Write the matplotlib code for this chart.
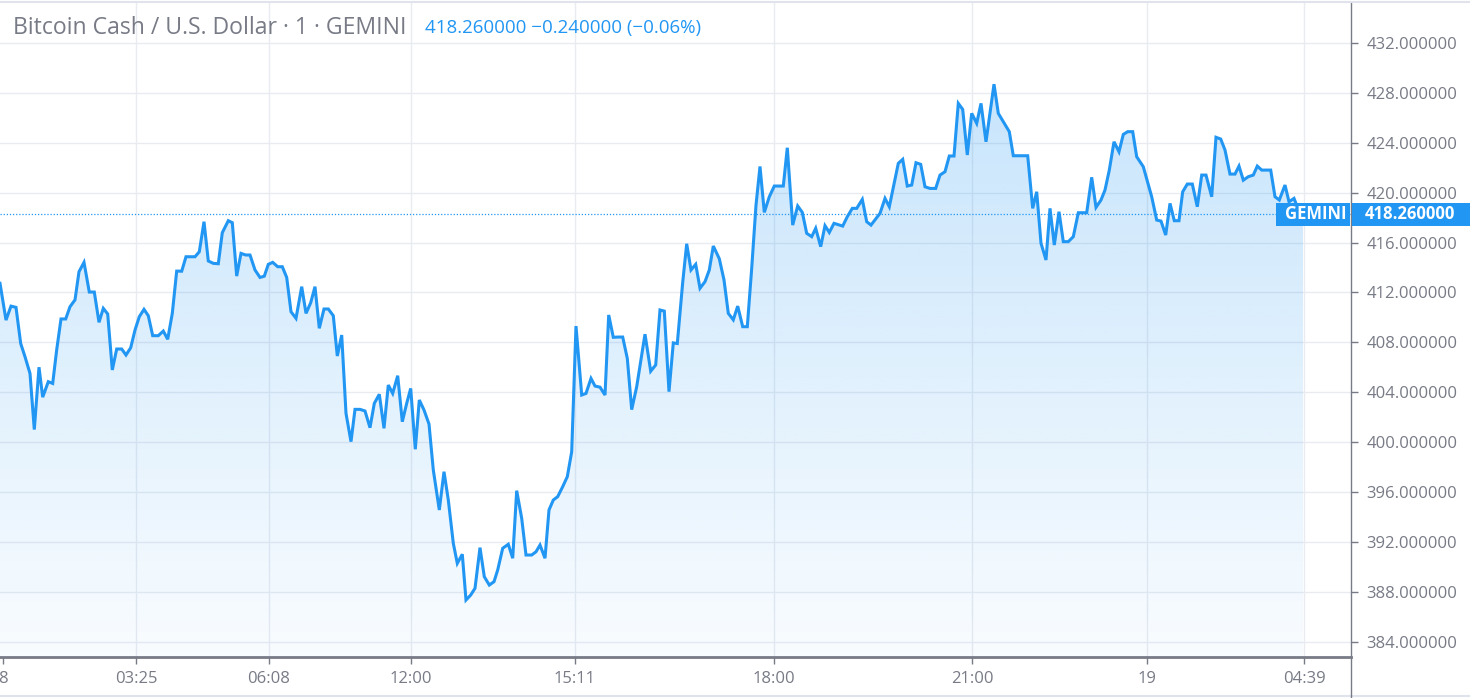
import numpy as np
import matplotlib
matplotlib.use("Agg")
import matplotlib.pyplot as plt
from matplotlib.patches import Rectangle
from matplotlib.lines import Line2D
import matplotlib.transforms as mtransforms

# ---------------- data ----------------
t = [0, 6, 11, 16, 20.7, 25, 30, 34.3, 39, 42.7, 48.3, 52.7, 56.7, 61, 65.7, 70, 75, 79, 84,
     89.3, 94.3, 99, 103.3, 107.7, 112.3, 116.7, 121.7, 126, 130.7, 135, 139.3, 144, 148.3,
     152.7, 158.3, 163.3, 167.7, 172.3, 176.7, 181.7, 186, 195, 199.3, 204, 208.3, 213.3,
     218.3, 222.3, 228.3, 232.3, 236.7, 241, 245.7, 250, 255, 260, 264.3, 268.3, 272.7,
     277.7, 282.3, 286.7, 291, 296, 301.7, 306, 310.7, 315, 319.3, 324, 328.3,
     333.3, 337.3, 341.7, 346, 351, 355, 360, 365, 370, 374.3, 379.3, 384, 388.3, 392.7,
     397.7, 402.3, 406.7, 410.7, 415.3, 419.3, 424, 429, 433.3, 439.3, 444, 448.3, 453.3,
     457.3, 462.3, 466, 470.7, 475, 480, 484.3, 489.3, 494, 497.7, 502.7, 508.3, 512.7,
     516.7, 521.7, 526, 531.7, 536, 540, 545, 549, 553.3, 557.7, 562.7, 567.3, 571.7, 576,
     581.7, 586, 591, 595, 600, 605, 608.7, 613.3, 618.3, 622.7, 627.3, 631.7, 636.7, 645,
     650.7, 655.7, 660, 664.3, 669, 673.3, 677.3, 682.7, 686.7, 691, 695.7, 700, 705, 709.3,
     713.3, 719.3, 724, 728.3, 733.3, 737.7, 742.7, 747.3, 751.7, 756, 760, 764.3, 769.3,
     774.3, 783.3, 787.3, 792.7, 797.7, 802.3, 806.7, 811.7, 815.7, 820.7, 825, 829.3, 834,
     842.7, 847.3, 852.3, 856.7, 862.3, 866.7, 871, 880, 885, 889.3, 898.3, 902.7, 907.3,
     911.7, 916, 920.7, 925, 930, 935.7, 940, 945, 949.3, 954, 958.3, 962.7, 967.3, 971.7,
     976.7, 981, 986, 994, 998.3, 1003.3, 1009.3, 1013.3, 1027.7, 1032.7, 1036.7, 1041,
     1046, 1050, 1054.3, 1059, 1063.3, 1068.3, 1073.3, 1078.3, 1086.7, 1091.7, 1096, 1101,
     1105, 1109.3, 1114, 1119, 1123.3, 1127.7, 1132.7, 1136.7, 1143.3, 1151.7, 1156.7, 1161,
     1165.7, 1170, 1174.3, 1179, 1182.7, 1187.3, 1192.3, 1197.3, 1201.7, 1206, 1211.7, 1216,
     1220.7, 1225, 1230, 1235, 1239, 1243.3, 1248.3, 1253.3, 1257.3, 1261.7, 1270.7, 1275,
     1279.3, 1285, 1289, 1294, 1299, 1303]

price = [412.73, 409.78, 410.9, 410.8, 407.9, 406.84, 405.5, 401.0, 406.0, 403.6, 404.84,
         404.7, 407.4, 409.87, 409.87, 410.85, 411.4, 413.66, 414.41, 412.03, 412.03, 409.6,
         410.72, 410.27, 405.78, 407.46, 407.46, 406.98, 407.56, 408.98, 410.05, 410.64,
         410.13, 408.53, 408.53, 408.9, 408.24, 410.32, 413.71, 413.7, 414.86, 414.86, 415.26,
         417.67, 414.52, 414.33, 414.3, 416.79, 417.75, 417.59, 413.31, 415.13, 415.0, 415.0,
         413.8, 413.2, 413.3, 414.25, 414.41, 414.06, 414.06, 413.2, 410.45, 409.92, 412.46,
         410.32, 411.17, 412.46, 409.12, 410.67, 410.67,
         410.13, 406.9, 408.58, 402.3, 400.03, 402.62, 402.62, 402.49, 401.15, 403.1, 403.83,
         401.1, 404.57, 403.9, 405.32, 401.63, 403.1, 404.3, 399.42, 403.37, 402.57, 401.44,
         397.76, 394.55, 397.62, 395.35, 391.88, 390.27, 391.0, 387.33, 387.73, 388.27, 391.53,
         389.2, 388.53, 388.8, 389.74, 391.48, 391.8, 390.68, 396.1, 393.88, 390.94, 390.94,
         391.2, 391.74, 390.68, 394.55, 395.35, 395.62, 396.42, 397.22, 399.22, 409.3, 403.77,
         403.9, 405.1, 404.49, 404.4, 403.77, 410.19, 408.4, 408.42, 408.42, 406.71, 402.6,
         404.44, 408.65, 405.68, 406.18, 410.59, 410.5, 404.04, 407.95, 407.9, 412.8, 415.9,
         413.8, 414.25, 412.33, 412.86, 413.8, 415.72, 414.7, 413.0, 410.32, 409.8, 410.9,
         409.25, 409.25, 413.93, 419.0, 422.1, 418.42, 419.67, 420.53, 420.53, 423.6, 417.4,
         418.93, 418.42, 416.74, 416.47, 417.14, 415.67, 417.35, 416.81, 417.54, 417.32,
         418.07, 418.74, 418.74, 419.46, 417.67, 417.4, 418.34, 419.54, 418.87, 422.35, 422.67,
         420.53, 420.61, 422.4, 422.27, 420.47, 420.34, 420.34, 421.41, 421.68, 422.94, 422.94,
         427.16, 426.68, 423.02, 426.36, 425.56, 427.16, 424.08, 428.7, 426.36, 425.69, 424.89,
         422.96, 422.96, 418.74, 420.07, 415.94, 414.6, 418.74, 415.8, 418.47, 416.07, 416.07,
         416.47, 418.39, 418.39, 421.23, 418.82, 419.41, 420.21, 421.81, 424.08, 423.28, 424.67,
         424.89, 424.89, 422.88, 422.08, 419.67, 417.8, 417.72, 416.6, 419.14, 417.75, 417.75,
         420.07, 420.69, 420.69, 418.87, 421.41, 421.41, 419.67, 424.44, 424.3, 423.42, 421.49,
         421.49, 422.13, 421.0, 421.28, 421.41, 422.13, 421.81, 421.81, 419.67, 419.41, 420.61,
         419.27, 419.54, 418.5, 418.26]

tick_pos = [3, 136, 269, 411, 575, 774, 972, 1147, 1304]
tick_labels = ["8", "03:25", "06:08", "12:00", "15:11", "18:00", "21:00", "19", "04:39"]
y_ticks = list(range(384, 433, 4))

title = "Bitcoin Cash / U.S. Dollar \u00b7 1 \u00b7 GEMINI"
last_price = price[-1]
change = -0.24
change_pct = -0.06
exchange = "GEMINI"

# ---------------- style ----------------
BLUE = "#2196f3"
GRAY = "#787b86"
GRID = "#e9ebf1"
FONT = ["Open Sans", "DejaVu Sans"]
plt.rcParams["font.family"] = FONT

W, H = 1470, 698
fig = plt.figure(figsize=(W / 100, H / 100), dpi=100)
fig.patch.set_facecolor("white")

ax_left, ax_right, ax_top, ax_bot = 0, 1351, 3, 657
ax = fig.add_axes([ax_left / W, 1 - ax_bot / H, (ax_right - ax_left) / W, (ax_bot - ax_top) / H])

y_lo, y_hi = 382.76, 435.21
x_lo, x_hi = 0, 1351

# gradient area fill
poly = ax.fill_between(t, price, y_lo, facecolor="none", edgecolor="none")
n = 256
alpha = np.linspace(0.25, 0.03, n)
img = np.zeros((n, 1, 4))
img[:, 0, 0] = 33 / 255
img[:, 0, 1] = 150 / 255
img[:, 0, 2] = 243 / 255
img[:, 0, 3] = alpha
im = ax.imshow(img, extent=[t[0], t[-1], y_lo, max(price)], aspect="auto",
               origin="upper", zorder=1, interpolation="bilinear")
im.set_clip_path(poly.get_paths()[0], transform=ax.transData)

ax.plot(t, price, color=BLUE, lw=2.2, zorder=3, solid_joinstyle="miter")

ax.axhline(last_price, color=BLUE, lw=0.9, ls=(0, (1, 1.5)), zorder=2)

ax.set_xlim(x_lo, x_hi)
ax.set_ylim(y_lo, y_hi)

# grid
for yv in y_ticks:
    ax.axhline(yv, color=GRID, lw=1, zorder=0)
for xv in tick_pos[1:]:
    ax.axvline(xv, color=GRID, lw=1, zorder=0)

# axes
ax.yaxis.tick_right()
ax.set_yticks(y_ticks)
ax.set_yticklabels([f"{v:.6f}" for v in y_ticks])
ax.set_xticks(tick_pos)
ax.set_xticklabels(tick_labels)
ax.tick_params(axis="y", direction="out", length=5, width=1, color=GRAY,
               labelcolor=GRAY, labelsize=12, pad=6)
ax.tick_params(axis="x", direction="out", length=5, width=1, color=GRAY,
               labelcolor=GRAY, labelsize=12, pad=5)
for s in ["top", "left"]:
    ax.spines[s].set_visible(False)
ax.spines["right"].set_color(GRAY)
ax.spines["right"].set_linewidth(1)
ax.spines["bottom"].set_color(GRAY)
ax.spines["bottom"].set_linewidth(2)

# decorative borders
fig.add_artist(Line2D([0, 1], [1 - 1.5 / H, 1 - 1.5 / H], color="#e0e3eb", lw=1.5))
fig.add_artist(Line2D([0, 1], [1 - 695.5 / H, 1 - 695.5 / H], color="#e0e3eb", lw=1.5))
fig.add_artist(Line2D([ax_right / W, ax_right / W], [0, 1 - ax_bot / H], color=GRAY, lw=1))

# price labels
trans = mtransforms.blended_transform_factory(fig.transFigure, ax.transData)
box_h = 23 / ((ax_bot - ax_top) / (y_hi - y_lo))
ax.add_patch(Rectangle((1352 / W, last_price - box_h / 2), (W - 1352) / W, box_h,
                       transform=trans, facecolor=BLUE, edgecolor="none", clip_on=False, zorder=5))
ax.add_patch(Rectangle((1276 / W, last_price - box_h / 2), (1350 - 1276) / W, box_h,
                       transform=trans, facecolor=BLUE, edgecolor="none", clip_on=False, zorder=5))
ax.text(1365 / W, last_price, f"{last_price:.6f}", transform=trans, color="white",
        fontsize=12, fontweight="bold", va="center", ha="left", zorder=6)
ax.text(1347 / W, last_price, exchange, transform=trans, color="white",
        fontsize=12, fontweight="bold", va="center", ha="right", zorder=6)

# header
fig.text(13 / W, 1 - 28 / H, title, color=GRAY, fontsize=16.6, va="center", ha="left")
hdr = f"{last_price:.6f} \u2212{abs(change):.6f} (\u2212{abs(change_pct):.2f}%)"
fig.text(425 / W, 1 - 28 / H, hdr, color=BLUE, fontsize=13.5, va="center", ha="left")

fig.savefig("out.png", dpi=100, facecolor="white")
